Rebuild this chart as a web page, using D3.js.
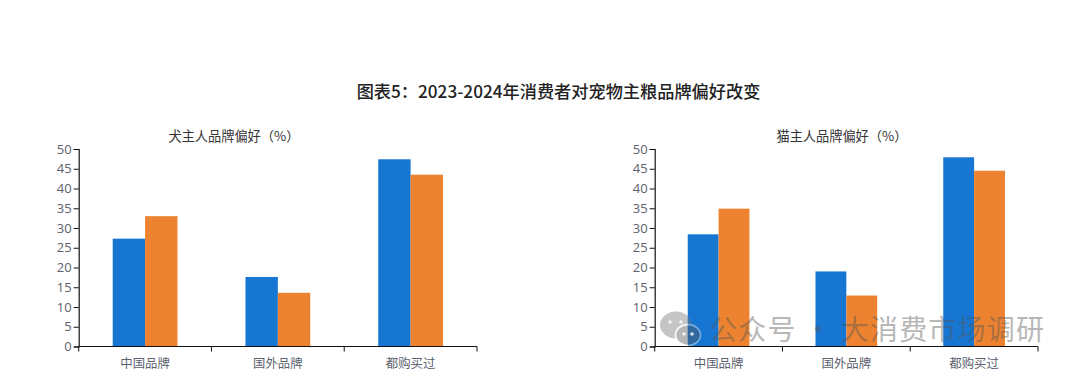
<!DOCTYPE html>
<html>
<head>
<meta charset="utf-8">
<script src="https://cdnjs.cloudflare.com/ajax/libs/d3/7.8.5/d3.min.js"></script>
<style>
    html, body { margin: 0; padding: 0; background: #fff; }
    svg { display: block; }
    text { font-family: "Noto Sans CJK SC", "Noto Sans", sans-serif; }
    .tick text { font-family: "Open Sans", "Noto Sans CJK SC", sans-serif; }
</style>
</head>
<body>
<div id="chart"></div>
<script>
// values
const categories = ["中国品牌", "国外品牌", "都购买过"];
const years = ["2023", "2024"];
const dogValues2023 = [27.3, 17.6, 47.4];
const dogValues2024 = [33.0, 13.6, 43.5];
const catValues2023 = [28.4, 19.0, 47.9];
const catValues2024 = [34.9, 12.9, 44.5];
const yTicks = [0, 5, 10, 15, 20, 25, 30, 35, 40, 45, 50];

const mainTitle = "图表5：2023-2024年消费者对宠物主粮品牌偏好改变";
const dogTitle = "犬主人品牌偏好（%）";
const catTitle = "猫主人品牌偏好（%）";
const watermark = "公众号 · 大消费市场调研";

const width = 1080, height = 373;
const colors = {"2023": "#1776d2", "2024": "#ed8330"};

const svg = d3.select("#chart").append("svg")
    .attr("width", width)
    .attr("height", height);

svg.append("text")
    .attr("x", 558.5)
    .attr("y", 98)
    .attr("text-anchor", "middle")
    .attr("font-size", 17.2)
    .attr("font-weight", 500)
    .attr("fill", "#222")
    .text(mainTitle);

function drawPanel(cfg) {
    const xScale = d3.scaleBand().domain(categories).range([cfg.x0, cfg.x1]);
    const subScale = d3.scaleBand().domain(years)
        .range([0, xScale.bandwidth()])
        .paddingOuter(cfg.outer);
    const yScale = d3.scaleLinear().domain([0, 50]).range([346.5, 149]);

    const g = svg.append("g");

    g.append("text")
        .attr("x", cfg.titleX)
        .attr("y", 141)
        .attr("font-size", 13.2)
        .attr("fill", "#333")
        .text(cfg.title);

    const rows = categories.map((c, i) => ({cat: c, "2023": cfg.a[i], "2024": cfg.b[i]}));

    g.selectAll(".group")
        .data(rows)
        .enter().append("g")
        .attr("transform", (d) => "translate(" + xScale(d.cat) + ",0)")
        .selectAll("rect")
        .data((d) => years.map((y) => ({year: y, value: d[y]})))
        .enter().append("rect")
        .attr("x", (d) => subScale(d.year))
        .attr("y", (d) => yScale(d.value))
        .attr("width", subScale.bandwidth())
        .attr("height", (d) => yScale(0) - yScale(d.value))
        .attr("fill", (d) => colors[d.year]);

    const yAxis = g.append("g")
        .attr("transform", "translate(" + cfg.x0 + ",0)")
        .call(d3.axisLeft(yScale).tickValues(yTicks).tickSize(5).tickPadding(2));
    yAxis.select(".domain").attr("stroke", "#111").attr("stroke-width", 1.2);
    yAxis.selectAll("line").attr("stroke", "#111");
    yAxis.selectAll("text").attr("font-size", 13).attr("fill", "#5c5f6e");

    // ticks sit on the band edges, labels in the band centres
    const xAxis = g.append("g").attr("transform", "translate(0," + yScale(0) + ")");
    xAxis.append("line")
        .attr("x1", cfg.x0).attr("x2", cfg.x1)
        .attr("stroke", "#111").attr("stroke-width", 1.2);
    xAxis.selectAll(".edge")
        .data(categories.concat("end"))
        .enter().append("line")
        .attr("x1", (d) => d === "end" ? cfg.x1 : xScale(d))
        .attr("x2", (d) => d === "end" ? cfg.x1 : xScale(d))
        .attr("y1", 0).attr("y2", 5)
        .attr("stroke", "#111");
    xAxis.selectAll(".label")
        .data(categories)
        .enter().append("text")
        .attr("x", (d) => xScale(d) + xScale.bandwidth() / 2)
        .attr("y", 21)
        .attr("text-anchor", "middle")
        .attr("font-size", 12.4)
        .attr("fill", "#5c5f6e")
        .text((d) => d);
}

drawPanel({x0: 78.7, x1: 477, outer: 1.05, titleX: 168.5, title: dogTitle, a: dogValues2023, b: dogValues2024});
drawPanel({x0: 654.7, x1: 1038, outer: 1.07, titleX: 776.5, title: catTitle, a: catValues2023, b: catValues2024});

// watermark on top of the right panel
const wm = svg.append("g").attr("opacity", 0.42);
wm.append("ellipse").attr("cx", 676).attr("cy", 325).attr("rx", 16).attr("ry", 13.5).attr("fill", "#777");
wm.append("ellipse").attr("cx", 688).attr("cy", 335).attr("rx", 12.5).attr("ry", 10.5)
    .attr("fill", "#555").attr("stroke", "#fff").attr("stroke-width", 1.5);
[[670, 322], [681, 322], [684, 334], [692, 334]].forEach((p) => {
    svg.append("circle").attr("cx", p[0]).attr("cy", p[1]).attr("r", 1.8).attr("fill", "#fff").attr("opacity", 0.8);
});
wm.append("text")
    .attr("x", 709)
    .attr("y", 340)
    .attr("font-size", 28)
    .attr("letter-spacing", 1.2)
    .attr("fill", "#555")
    .text(watermark);
</script>
</body>
</html>
